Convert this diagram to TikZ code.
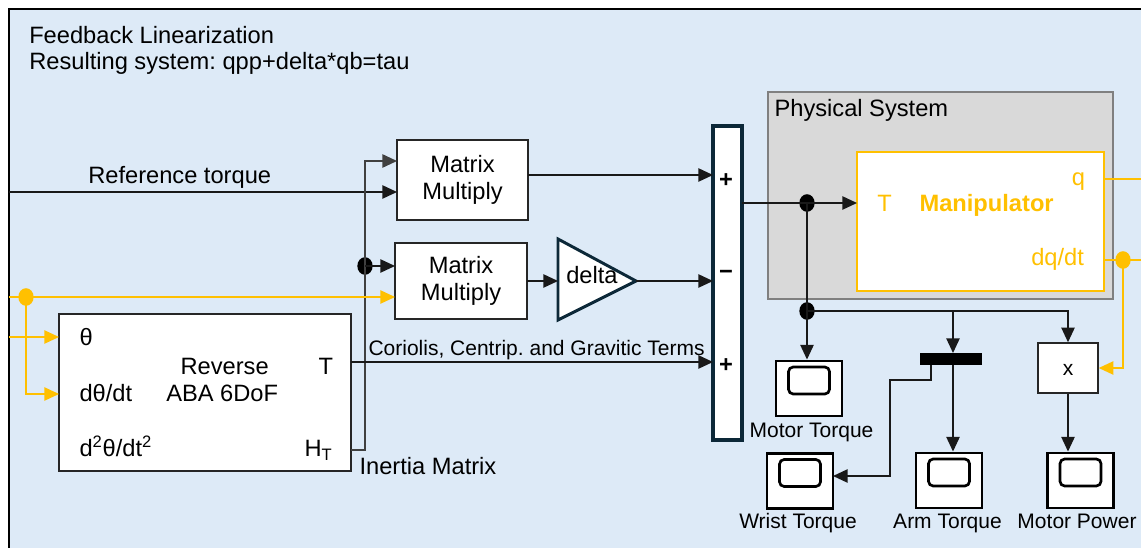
\documentclass[tikz,border=0pt]{standalone}
\usepackage{fontspec}
\setmainfont{Liberation Sans}
\usetikzlibrary{arrows.meta,shapes.geometric,calc}
\definecolor{panelblue}{RGB}{221,234,247}
\definecolor{sigyel}{RGB}{255,192,0}
\definecolor{sumedge}{RGB}{12,40,56}
\definecolor{physgray}{RGB}{217,217,217}
\definecolor{physedge}{RGB}{128,128,128}
\frenchspacing
\begin{document}
\begin{tikzpicture}[x=0.75pt,y=0.75pt,yscale=-1,xscale=1,
  every node/.style={inner sep=0pt},
  txt/.style={font=\fontsize{17.75}{20.8}\selectfont},
  smalltxt/.style={font=\fontsize{15.75}{18}\selectfont},
  blk/.style={draw=black!85,fill=white,line width=1.1pt,rectangle,txt,align=center},
  scopeblk/.style={draw=black,fill=white,line width=2.2pt,minimum width=49.5pt,minimum height=41.25pt},
  screen/.style={draw=black,line width=2pt,rounded corners=3.5pt},
  wire/.style={line width=1.1pt,draw=black!90},
  conn/.style={wire,-{Triangle[length=11pt,width=10pt]}},
  hwire/.style={line width=1.3pt,draw=black!75},
  ywire/.style={line width=1.1pt,draw=sigyel},
  yconn/.style={ywire,-{Triangle[length=11pt,width=10pt]}},
  dot/.style={ellipse,fill=black,minimum width=11.5pt,minimum height=13.2pt},
  ydot/.style={dot,fill=sigyel},
  ytxt/.style={txt,text=sigyel}]
\useasboundingbox (0,0) rectangle (1141,548);
\clip (0,0) rectangle (1141,548);

%Panel: subsystem area
\fill[panelblue] (9,9) rectangle (1160,560);
\draw[line width=1.5pt] (9,560) -- (9,9) -- (1160,9);
\node[txt,anchor=base west] (title) at (29,43.7) {Feedback Linearization};
\node[txt,anchor=base west] (subtitle) at (29,70) {Resulting system: qpp+delta*qb=tau};

%Block: Matrix Multiply (upper)
\node[blk,minimum width=98.25pt,minimum height=60pt] (mmA) at (462.5,180) {Matrix\\Multiply};
\coordinate (mmA-i1) at (397,161);
\coordinate (mmA-i2) at (397,192);
\coordinate (mmA-o) at (528,175);
%Block: Matrix Multiply (lower)
\node[blk,minimum width=99pt,minimum height=57pt] (mmB) at (461,281) {Matrix\\Multiply};
\coordinate (mmB-i1) at (395,266);
\coordinate (mmB-i2) at (395,297);
\coordinate (mmB-o) at (527,281);

%Block: gain delta
\draw[line width=2.2pt,draw=sumedge,fill=white] (558,239) -- (636,281) -- (558,320) -- cycle;
\coordinate (gain-i) at (558,281);
\coordinate (gain-o) at (636,281);
\node[txt,anchor=base west] (gainLbl) at (566,284) {delta};

%Block: sum
\node[draw=sumedge,fill=white,line width=2.4pt,minimum width=21.75pt,minimum height=235.5pt] (sum) at (727.5,283) {};
\coordinate (sum-i1) at (713,175);
\coordinate (sum-i2) at (713,281);
\coordinate (sum-i3) at (713,362);
\coordinate (sum-o) at (742,203);
\node[txt,font=\fontsize{17.75}{20}\selectfont\bfseries,anchor=base] (sgnA) at (726,188) {+};
\node[txt,font=\fontsize{17.75}{20}\selectfont\bfseries,anchor=base] (sgnB) at (726,280) {−};
\node[txt,font=\fontsize{17.75}{20}\selectfont\bfseries,anchor=base] (sgnC) at (726,373) {+};

%Block: Reverse ABA 6DoF
\node[blk,minimum width=219pt,minimum height=117.75pt] (aba) at (205,392.5) {};
\coordinate (aba-i1) at (59,337);
\coordinate (aba-i2) at (59,394);
\coordinate (aba-t) at (351,362);
\coordinate (aba-h) at (351,450);
\node[txt,anchor=base west] (abaTh) at (79.3,346) {θ};
\node[txt,anchor=base west] (abaDth) at (79.3,401.7) {dθ/dt};
\node[txt,anchor=base west] (abaDdth) at (79.3,456) {d\textsuperscript{2}θ/dt\textsuperscript{2}};
\node[txt,anchor=base west] (abaNameA) at (180.3,375) {Reverse};
\node[txt,anchor=base west] (abaNameB) at (166,401.7) {ABA 6DoF};
\node[txt,anchor=base west] (abaT) at (318.3,375) {T};
\node[txt,anchor=base west] (abaH) at (304.3,456.7) {H\textsubscript{T}};

%Subsystem: Physical System
\node[draw=physedge,fill=physgray,line width=2.2pt,minimum width=258.75pt,minimum height=155.25pt] (phys) at (940.5,195.5) {};
\node[txt,anchor=base west] (physLbl) at (774.3,116.7) {Physical System};
\node[draw=sigyel,fill=white,line width=1.1pt,minimum width=185.25pt,minimum height=104.25pt] (manip) at (980.5,221.5) {};
\coordinate (manip-T) at (857,203);
\coordinate (manip-q) at (1104,179);
\coordinate (manip-dq) at (1104,260);
\node[ytxt,anchor=base west] (manipT) at (877,211.7) {T};
\node[ytxt,font=\fontsize{17.75}{20}\selectfont\bfseries,anchor=base west] (manipName) at (919.3,212) {Manipulator};
\node[ytxt,anchor=base west] (manipQ) at (1071.7,186) {q};
\node[ytxt,anchor=base west] (manipDq) at (1031,265.7) {dq/dt};

%Blocks: demux, product, scopes
\node[fill=black,minimum width=46.5pt,minimum height=9pt] (demux) at (951,359) {};
\coordinate (dmx-i) at (953,353);
\coordinate (dmx-o1) at (931,365);
\coordinate (dmx-o2) at (953,365);
\node[blk,minimum width=45pt,minimum height=37.5pt] (prod) at (1068,368) {};
\node[smalltxt,anchor=base] (prodLbl) at (1068,376) {x};
\node[scopeblk] (sMT) at (809,388.5) {};
\node[scopeblk] (sWT) at (800,481) {};
\node[scopeblk] (sAT) at (949,480.5) {};
\node[scopeblk] (sMP) at (1080.5,480.5) {};
\foreach \s in {sMT,sWT,sAT,sMP}
  \draw[screen] ($(\s.center)+(-20.5,-21.5)$) rectangle ($(\s.center)+(20.5,5.5)$);
\node[smalltxt,anchor=base] (sMTLbl) at (811.5,437) {Motor Torque};
\node[smalltxt,anchor=base] (sWTLbl) at (798,528) {Wrist Torque};
\node[smalltxt,anchor=base] (sATLbl) at (947.5,528) {Arm Torque};
\node[smalltxt,anchor=base] (sMPLbl) at (1077,528) {Motor Power};
\coordinate (sWT-i) at (833,476);

%Junctions
\node[dot] (hjunc) at (365,266) {};
\node[ydot] (yjunc) at (26,297) {};
\node[dot] (tjunc) at (807,203) {};
\node[dot] (bjunc) at (807,311) {};
\node[ydot] (dqjunc) at (1123,260) {};
\coordinate (refsrc) at (9,192);
\coordinate (dqsrc) at (9,297);
\coordinate (thsrc) at (9,337);

%Connectors
\draw[conn] (refsrc) -- (mmA-i2);
\node[txt,anchor=base west] (refLbl) at (88,184) {Reference torque};
\draw[hwire,-{Triangle[length=11pt,width=10pt]}] (aba-h) -| (hjunc.center) |- (mmA-i1);
\draw[conn] (hjunc.center) -- (mmB-i1);
\node[txt,anchor=base west] (inertiaLbl) at (359.3,474) {Inertia Matrix};
\draw[yconn] (dqsrc) -- (mmB-i2);
\draw[yconn] (yjunc.center) |- (aba-i2);
\draw[yconn] (thsrc) -- (aba-i1);
\draw[conn] (mmA-o) -- (sum-i1);
\draw[conn] (mmB-o) -- (gain-i);
\draw[conn] (gain-o) -- (sum-i2);
\draw[conn] (aba-t) -- (sum-i3);
\node[smalltxt,anchor=base west] (corLbl) at (368.3,356) {Coriolis, Centrip. and Gravitic Terms};
\draw[conn] (sum-o) -- (manip-T);
\draw[wire] (tjunc.center) -- (bjunc.center);
\draw[conn] (bjunc.center) -- (bjunc.center |- sMT.north);
\draw[conn] (bjunc.center) -| (prod.north);
\draw[conn] (bjunc.center -| dmx-i) -- (dmx-i);
\draw[conn] (dmx-o1) -- ++(0,15) -| ++(-41,96) -- (sWT-i);
\draw[conn] (dmx-o2) -- (dmx-o2 |- sAT.north);
\draw[conn] (prod.south) -- (prod.south |- sMP.north);
\draw[ywire] (manip-q) -- ++(60,0);
\draw[ywire] (manip-dq) -- ++(60,0);
\draw[yconn] (dqjunc.center) |- (prod.east);

\end{tikzpicture}
\end{document}
